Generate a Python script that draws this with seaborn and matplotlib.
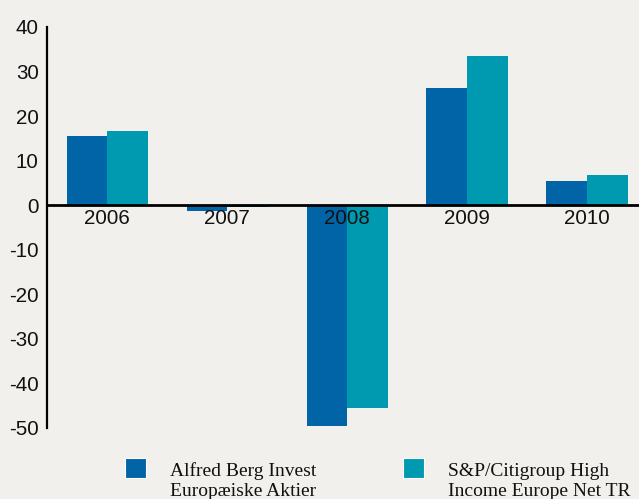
import matplotlib
matplotlib.use("Agg")
import matplotlib.pyplot as plt
from matplotlib.patches import Rectangle
import seaborn as sns
import pandas as pd

# Annual returns (%) per year for the fund and its benchmark index
years = ["2006", "2007", "2008", "2009", "2010"]
fund_returns = [15.5, -1.2, -49.5, 26.2, 5.4]
index_returns = [16.6, -0.5, -45.4, 33.4, 6.7]
series_names = ["Alfred Berg Invest Europæiske Aktier",
                "S&P/Citigroup High Income Europe Net TR"]
legend_lines = [["Alfred Berg Invest", "Europæiske Aktier"],
                ["S&P/Citigroup High", "Income Europe Net TR"]]
y_ticks = [40, 30, 20, 10, 0, -10, -20, -30, -40, -50]

colors = ["#0064A6", "#009AB0"]
bg = "#F1F0EC"

df = pd.DataFrame({
    "year": years * 2,
    "return": fund_returns + index_returns,
    "series": [series_names[0]] * len(years) + [series_names[1]] * len(years),
})

sns.set_theme(style="white")
plt.rcParams["font.family"] = ["Liberation Sans", "DejaVu Sans"]
plt.rcParams["axes.unicode_minus"] = False

W, H = 639, 499
fig = plt.figure(figsize=(W / 100, H / 100), dpi=100, facecolor=bg)
ax = fig.add_axes([47 / W, 1 - 428 / H, (W - 47) / W, (428 - 27) / H])
ax.set_facecolor(bg)

sns.barplot(data=df, x="year", y="return", hue="series", order=years,
            hue_order=series_names, palette=colors, saturation=1,
            width=0.675, gap=0, linewidth=0, legend=False, ax=ax)

ax.set_xlim(-0.5, (W - 107) / 120)
ax.set_ylim(-50, 40)
ax.set_yticks(y_ticks)
ax.set_yticklabels([str(v) for v in y_ticks])
ax.set_xlabel("")
ax.set_ylabel("")

for s in ["top", "right"]:
    ax.spines[s].set_visible(False)
ax.spines["left"].set_color("black")
ax.spines["left"].set_linewidth(1.6)
ax.spines["bottom"].set_position(("data", 0))
ax.spines["bottom"].set_color("black")
ax.spines["bottom"].set_linewidth(2.0)
ax.set_axisbelow(False)

ax.tick_params(axis="y", length=0, pad=6, labelsize=14.8, labelcolor="#111111")
ax.tick_params(axis="x", length=0, pad=3, labelsize=14.8, labelcolor="#111111")

# Legend: colour squares with two-line serif captions
serif = ["Liberation Serif", "DejaVu Serif"]
sq_x = [125, 403]
txt_x = [170, 448]
for i in range(2):
    fig.add_artist(Rectangle((sq_x[i] / W, 1 - 478 / H), 21 / W, 20 / H,
                             transform=fig.transFigure, facecolor=colors[i],
                             edgecolor="white", linewidth=0.8))
    fig.text(txt_x[i] / W, 1 - 476.5 / H, legend_lines[i][0], family=serif,
             fontsize=14, va="baseline", ha="left", color="#111111")
    fig.text(txt_x[i] / W, 1 - 495.5 / H, legend_lines[i][1], family=serif,
             fontsize=14, va="baseline", ha="left", color="#111111")

fig.savefig("out.png", dpi=100, facecolor=bg)
